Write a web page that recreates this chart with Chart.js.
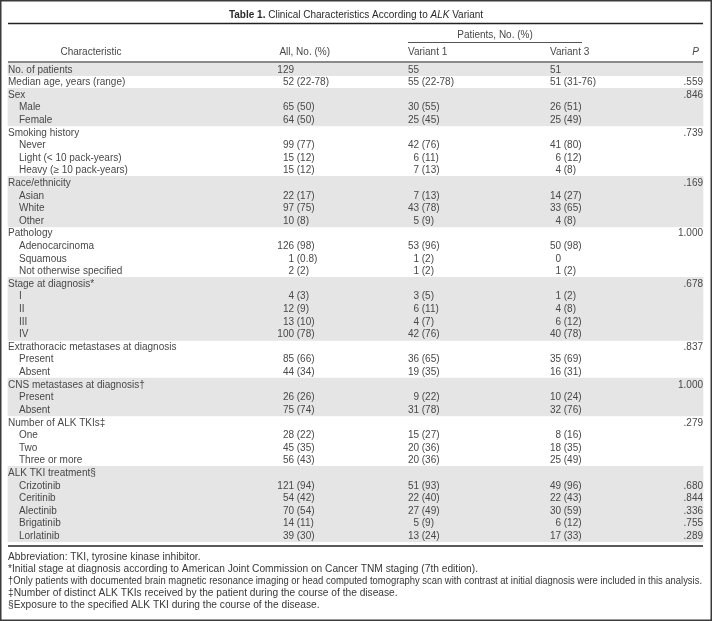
<!DOCTYPE html>
<html><head><meta charset="utf-8">
<script src="https://cdn.jsdelivr.net/npm/chart.js@4"></script>
<style>html,body{margin:0;padding:0;background:#fff}canvas{display:block}</style>
</head><body>
<canvas id="c" width="712" height="621"></canvas>
<script>
// ---- table data ----
const rowLabels = [
  'No. of patients','Median age, years (range)','Sex','Male','Female',
  'Smoking history','Never','Light (< 10 pack-years)','Heavy (\u2265 10 pack-years)',
  'Race/ethnicity','Asian','White','Other',
  'Pathology','Adenocarcinoma','Squamous','Not otherwise specified',
  'Stage at diagnosis*','I','II','III','IV',
  'Extrathoracic metastases at diagnosis','Present','Absent',
  'CNS metastases at diagnosis\u2020','Present','Absent',
  'Number of ALK TKIs\u2021','One','Two','Three or more',
  'ALK TKI treatment\u00a7','Crizotinib','Ceritinib','Alectinib','Brigatinib','Lorlatinib'
];
const rowLevel = [0,0,0,1,1, 0,1,1,1, 0,1,1,1, 0,1,1,1, 0,1,1,1,1, 0,1,1, 0,1,1, 0,1,1,1, 0,1,1,1,1,1];
const allPatients = ['129','52 (22-78)','','65 (50)','64 (50)','','99 (77)','15 (12)','15 (12)','','22 (17)','97 (75)','10 (8)','','126 (98)','1 (0.8)','2 (2)','','4 (3)','12 (9)','13 (10)','100 (78)','','85 (66)','44 (34)','','26 (26)','75 (74)','','28 (22)','45 (35)','56 (43)','','121 (94)','54 (42)','70 (54)','14 (11)','39 (30)'];
const variant1 = ['55','55 (22-78)','','30 (55)','25 (45)','','42 (76)','6 (11)','7 (13)','','7 (13)','43 (78)','5 (9)','','53 (96)','1 (2)','1 (2)','','3 (5)','6 (11)','4 (7)','42 (76)','','36 (65)','19 (35)','','9 (22)','31 (78)','','15 (27)','20 (36)','20 (36)','','51 (93)','22 (40)','27 (49)','5 (9)','13 (24)'];
const variant3 = ['51','51 (31-76)','','26 (51)','25 (49)','','41 (80)','6 (12)','4 (8)','','14 (27)','33 (65)','4 (8)','','50 (98)','0','1 (2)','','1 (2)','4 (8)','6 (12)','40 (78)','','35 (69)','16 (31)','','10 (24)','32 (76)','','8 (16)','18 (35)','25 (49)','','49 (96)','22 (43)','30 (59)','6 (12)','17 (33)'];
const pValues = ['','.559','.846','','','.739','','','','.169','','','','1.000','','','','.678','','','','','.837','','','1.000','','','.279','','','','','.680','.844','.336','.755','.289'];
const columnHeaders = ['Characteristic','All, No. (%)','Variant 1','Variant 3','P'];
const spannerHeader = 'Patients, No. (%)';
const titleParts = ['Table 1.',' Clinical Characteristics According to ','ALK',' Variant'];
const footnotes = [
  'Abbreviation: TKI, tyrosine kinase inhibitor.',
  '*Initial stage at diagnosis according to American Joint Commission on Cancer TNM staging (7th edition).',
  '\u2020Only patients with documented brain magnetic resonance imaging or head computed tomography scan with contrast at initial diagnosis were included in this analysis.',
  '\u2021Number of distinct ALK TKIs received by the patient during the course of the disease.',
  '\u00a7Exposure to the specified ALK TKI during the course of the disease.'
];

// shading bands: alternate groups (a group starts at each level-0 row)
const bandData = [];
(function(){ let g = -1; rowLevel.forEach(l => { if (l === 0) g++; bandData.push(g % 2 === 0 ? [8, 703] : null); }); })();

const FONT = '"Liberation Sans", Arial, sans-serif';
const TEXT = '#484848';

const tablePlugin = {
  id: 'tableText',
  afterDatasetsDraw(chart) {
    const ctx = chart.ctx, xs = chart.scales.x, ys = chart.scales.y;
    const X = v => xs.getPixelForValue(v);
    ctx.save();
    // frame
    ctx.strokeStyle = '#3a3a3a'; ctx.lineWidth = 1.5;
    ctx.strokeRect(0.75, 0.75, 710.5, 619.5);
    // title
    ctx.fillStyle = '#2a2a2a'; ctx.textBaseline = 'middle';
    const fonts = ['bold 10px ' + FONT, '10px ' + FONT, 'italic 10px ' + FONT, '10px ' + FONT];
    let tw = 0; const widths = titleParts.map((t, i) => { ctx.font = fonts[i]; const w = ctx.measureText(t).width; tw += w; return w; });
    let tx = X(356) - tw / 2;
    titleParts.forEach((t, i) => { ctx.font = fonts[i]; ctx.textAlign = 'left'; ctx.fillText(t, tx, 15); tx += widths[i]; });
    // rules
    const hline = (y, x0, x1, w, c) => { ctx.strokeStyle = c; ctx.lineWidth = w; ctx.beginPath(); ctx.moveTo(X(x0), y); ctx.lineTo(X(x1), y); ctx.stroke(); };
    hline(23.5, 8, 703, 1.5, '#222');
    hline(42.5, 408, 582, 1, '#555');
    hline(62, 8, 703, 2, '#8a8a8a');
    hline(ys.bottom + 4, 8, 703, 1.5, '#222');
    // headers
    ctx.fillStyle = TEXT; ctx.font = '10px ' + FONT;
    ctx.textAlign = 'center'; ctx.fillText(spannerHeader, X(495), 35);
    ctx.fillText(columnHeaders[0], X(91), 52.5);
    ctx.textAlign = 'right'; ctx.fillText(columnHeaders[1], X(330), 52.5);
    ctx.textAlign = 'left'; ctx.fillText(columnHeaders[2], X(408), 52.5);
    ctx.fillText(columnHeaders[3], X(550), 52.5);
    ctx.textAlign = 'right'; ctx.font = 'italic 10px ' + FONT; ctx.fillText(columnHeaders[4], X(699), 52.5);
    // body
    ctx.font = '10px ' + FONT;
    const cell = (txt, anchor, y) => {
      if (!txt) return;
      const k = txt.indexOf(' ');
      const num = k < 0 ? txt : txt.slice(0, k), rest = k < 0 ? '' : txt.slice(k);
      ctx.textAlign = 'right'; ctx.fillText(num, X(anchor), y);
      if (rest) { ctx.textAlign = 'left'; ctx.fillText(rest, X(anchor), y); }
    };
    rowLabels.forEach((lab, i) => {
      const y = ys.getPixelForValue(i) + 0.5;
      ctx.textAlign = 'left';
      ctx.fillText(lab, X(rowLevel[i] ? 19 : 8), y);
      cell(allPatients[i], 294, y);
      cell(variant1[i], 419, y);
      cell(variant3[i], 561, y);
      if (pValues[i]) { ctx.textAlign = 'right'; ctx.fillText(pValues[i], X(703), y); }
    });
    // footnotes
    ctx.textAlign = 'left'; ctx.fillStyle = '#383838'; ctx.font = '10.2px ' + FONT;
    footnotes.forEach((f, i) => ctx.fillText(f, X(8), ys.bottom + 15.5 + i * 12, 694));
    ctx.restore();
  }
};

new Chart(document.getElementById('c'), {
  type: 'bar',
  data: {
    labels: rowLabels,
    datasets: [{ label: 'shading', data: bandData, backgroundColor: '#e5e5e5', borderWidth: 0,
      barPercentage: 1, categoryPercentage: 1, grouped: false }]
  },
  options: {
    indexAxis: 'y', responsive: false, animation: false, devicePixelRatio: 1,
    layout: { padding: { left: 0, right: 0, top: 63, bottom: 79 } },
    scales: {
      x: { type: 'linear', min: 0, max: 712, display: false },
      y: { type: 'category', display: false, offset: true }
    },
    plugins: { legend: { display: false }, tooltip: { enabled: false } }
  },
  plugins: [tablePlugin]
});
</script>
</body></html>
